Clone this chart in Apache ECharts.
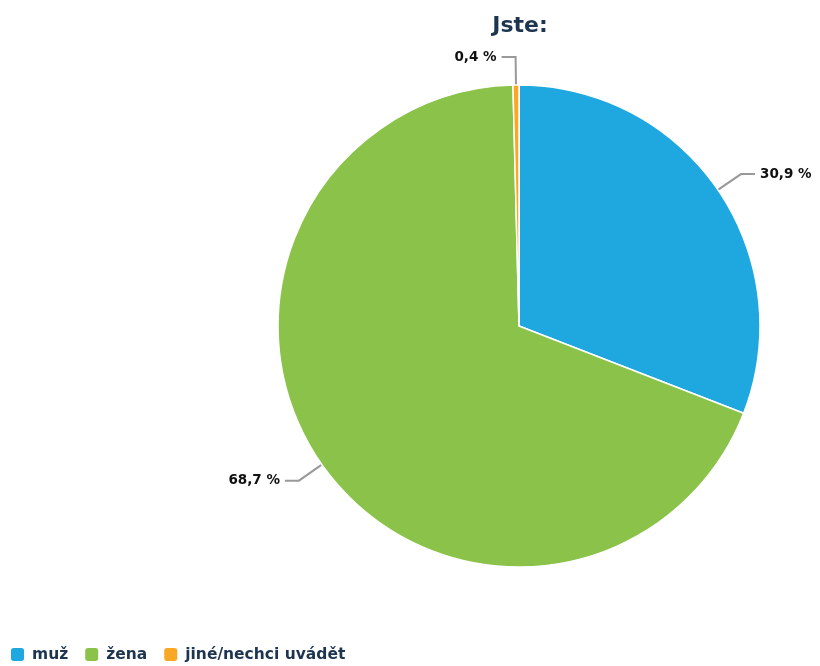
<!DOCTYPE html>
<html><head><meta charset="utf-8">
<script src="https://cdn.jsdelivr.net/npm/echarts@6/dist/echarts.min.js"></script>
<style>html,body{margin:0;padding:0;background:#fff}#c{width:820px;height:666px}</style>
</head><body><div id="c"></div>
<script>
const categories = ['muž', 'žena', 'jiné/nechci uvádět'];
const values = [30.9, 68.7, 0.4];
const colors = ['#1fa8e0', '#8bc34a', '#f9a825'];
const chart = echarts.init(document.getElementById('c'));
chart.setOption({
  animation: false,
  color: colors,
  title: { text: 'Jste:', left: 515, top: 10, textAlign: 'center',
    textStyle: { fontFamily: 'DejaVu Sans', fontWeight: 'bold', fontSize: 22, color: '#1e3550' } },
  legend: { left: 9, bottom: 3, padding: 0, icon: 'roundRect', itemWidth: 15, itemHeight: 15, itemGap: 15,
    itemStyle: { borderRadius: 4 },
    textStyle: { fontFamily: 'DejaVu Sans', fontWeight: 'bold', fontSize: 15.5, color: '#1e3550', padding: [0, 0, 0, 2] } },
  series: [{
    type: 'pie', center: [519, 326], radius: 241, startAngle: 90, clockwise: true,
    itemStyle: { borderColor: '#fff', borderWidth: 1.5 },
    label: { formatter: p => String(p.value).replace('.', ',') + ' %', overflow: 'none',
      fontFamily: 'DejaVu Sans', fontWeight: 'bold', fontSize: 13.5, color: '#111' },
    labelLine: { length: 28, length2: 14, lineStyle: { color: '#999', width: 2 } },
    data: categories.map((n, i) => ({ name: n, value: values[i] }))
  }]
});
</script></body></html>
